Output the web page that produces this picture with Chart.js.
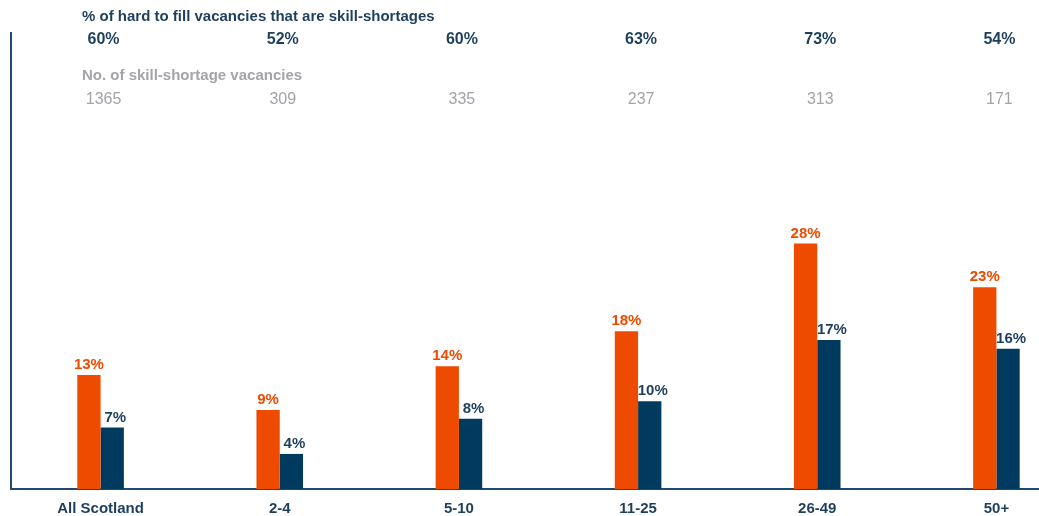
<!DOCTYPE html>
<html>
<head>
<meta charset="utf-8">
<script src="https://cdn.jsdelivr.net/npm/chart.js@4"></script>
<style>
  html, body { margin: 0; padding: 0; background: #fff; overflow: hidden; }
  /* the plot runs on past the right edge of the window */
  #wrap { width: 1086px; height: 535px; }
</style>
</head>
<body>
<div id="wrap"><canvas id="skills-chart"></canvas></div>
<script>
const sizeBands = ['All Scotland', '2-4', '5-10', '11-25', '26-49', '50+'];
const hardToFillPct = [13, 9, 14, 18, 28, 23];
const skillShortagePct = [7, 4, 8, 10, 17, 16];
const shareSkillShortage = ['60%', '52%', '60%', '63%', '73%', '54%'];
const skillShortageCount = ['1365', '309', '335', '237', '313', '171'];

const ORANGE = '#ee4b00';
const NAVY = '#003a5e';
const NAVY_TEXT = '#1d3f5e';
const GREY_TEXT = '#a3a4aa';
const FONT = '"Liberation Sans", Arial, sans-serif';

// header rows above the bars + value labels on each bar
const annotate = {
  id: 'annotate',
  afterDatasetsDraw(chart) {
    const { ctx, scales: { x } } = chart;
    ctx.save();
    ctx.textBaseline = 'middle';

    ctx.textAlign = 'left';
    ctx.font = `bold 15px ${FONT}`;
    ctx.fillStyle = NAVY_TEXT;
    ctx.fillText('% of hard to fill vacancies that are skill-shortages', 82, 17);
    ctx.fillStyle = GREY_TEXT;
    ctx.fillText('No. of skill-shortage vacancies', 82, 76);

    ctx.textAlign = 'center';
    sizeBands.forEach((_, i) => {
      const cx = x.getPixelForValue(i) + 3;
      ctx.font = `bold 16px ${FONT}`;
      ctx.fillStyle = NAVY_TEXT;
      ctx.fillText(shareSkillShortage[i], cx, 40);
      ctx.font = `16px ${FONT}`;
      ctx.fillStyle = GREY_TEXT;
      ctx.fillText(skillShortageCount[i], cx, 100);
    });

    ctx.font = `bold 15px ${FONT}`;
    chart.data.datasets.forEach((ds, di) => {
      chart.getDatasetMeta(di).data.forEach((bar, i) => {
        ctx.fillStyle = ds.labelColor;
        ctx.fillText(ds.data[i] + '%', bar.x + (di ? 3 : 0), bar.y - 10);
      });
    });
    ctx.restore();
  }
};

new Chart(document.getElementById('skills-chart'), {
  type: 'bar',
  data: {
    labels: sizeBands,
    datasets: [
      { data: hardToFillPct, backgroundColor: ORANGE, labelColor: ORANGE },
      { data: skillShortagePct, backgroundColor: NAVY, labelColor: NAVY_TEXT }
    ]
  },
  options: {
    responsive: true,
    maintainAspectRatio: false,
    animation: false,
    layout: { padding: { left: 11, right: 0, top: 33, bottom: 6 } },
    categoryPercentage: 0.26,
    barPercentage: 1,
    plugins: { legend: { display: false }, tooltip: { enabled: false } },
    scales: {
      x: {
        grid: { display: false, drawTicks: false },
        border: { color: '#1f4a6e', width: 2 },
        ticks: { color: NAVY_TEXT, font: { family: FONT, size: 15, weight: 'bold' }, padding: 11 }
      },
      y: {
        min: 0,
        max: 52,
        grid: { display: false, drawTicks: false },
        border: { color: '#1f4a6e', width: 2 },
        ticks: { display: false }
      }
    }
  },
  plugins: [annotate]
});
</script>
</body>
</html>
